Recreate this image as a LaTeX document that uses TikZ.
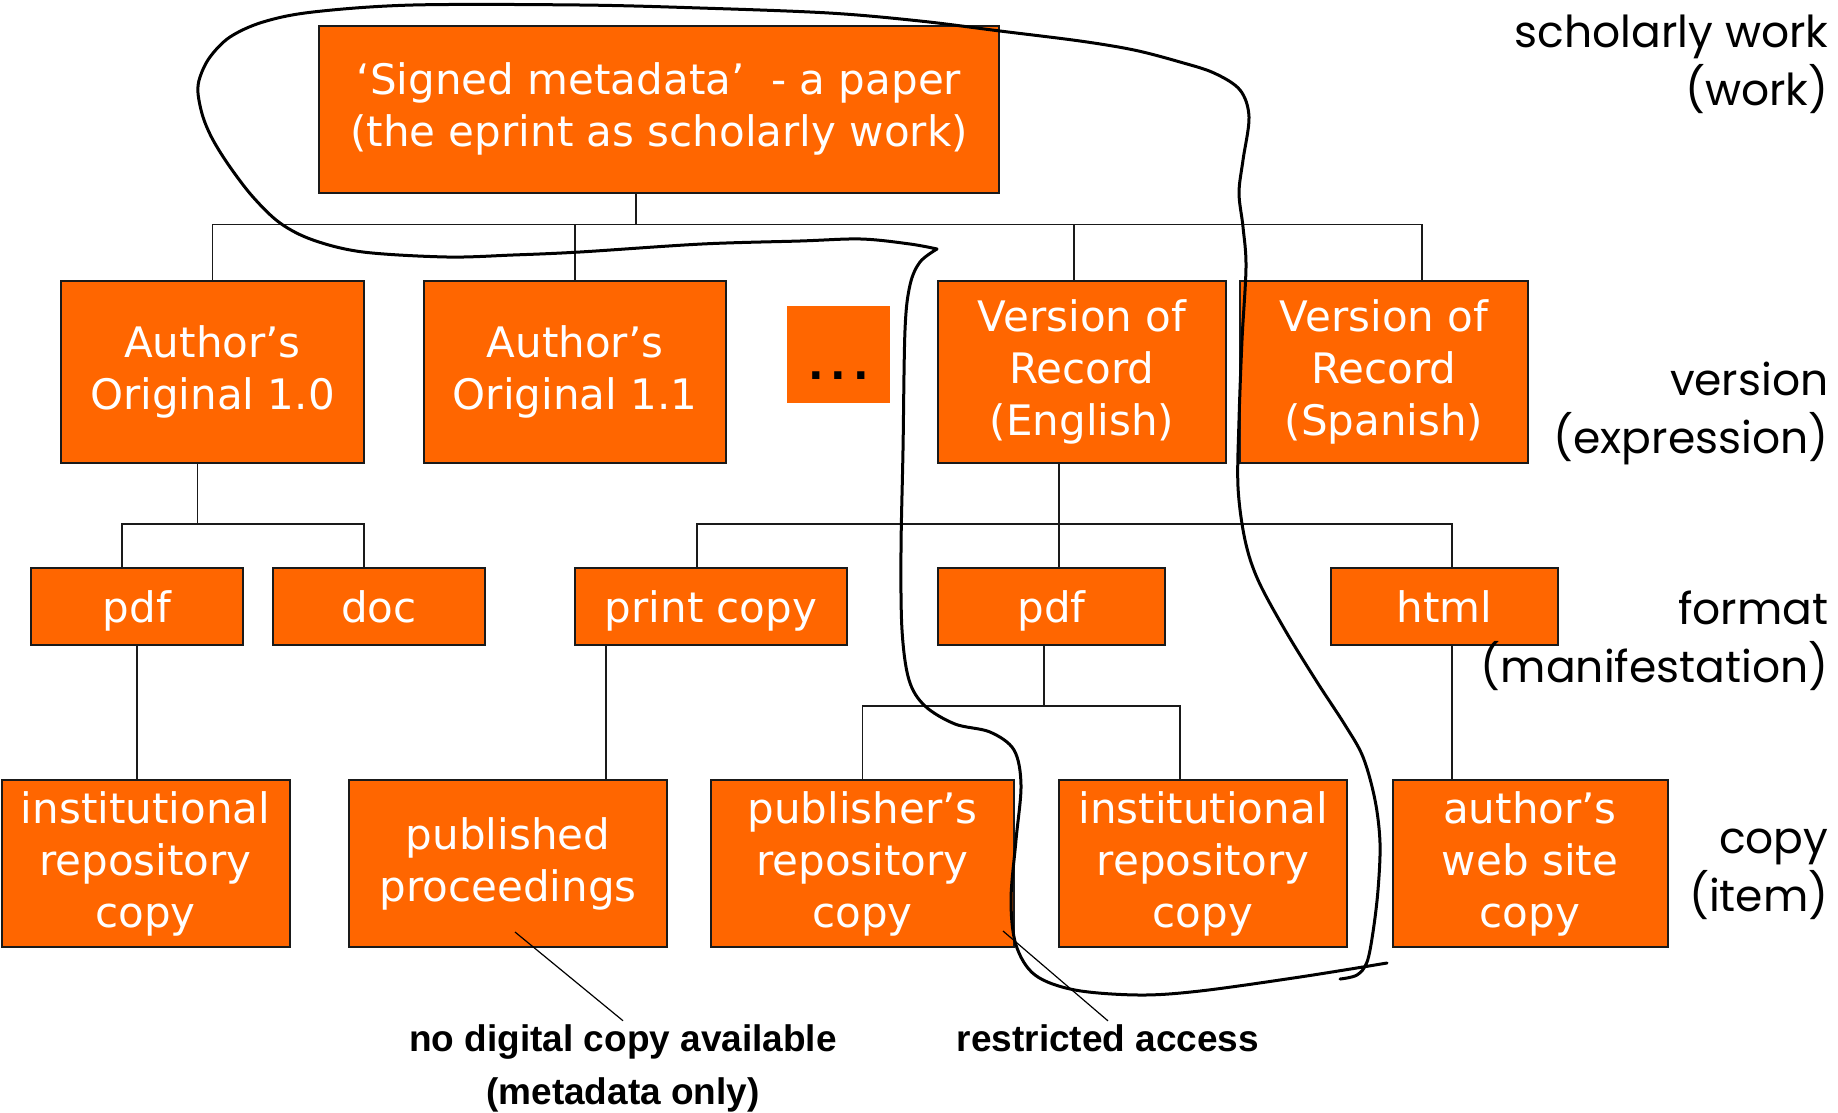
\documentclass[tikz,border=0pt]{standalone}
\usepackage{fontspec}
\setmainfont{DejaVu Sans}
\newfontfamily\notefont{Liberation Sans}
\newfontfamily\layerfont{Poppins}
\usetikzlibrary{calc}
\definecolor{orangebox}{HTML}{FF6600}
\definecolor{boxline}{HTML}{1A1A1A}

\begin{document}
\begin{tikzpicture}[x=1pt,y=-1pt,
    box/.style={draw=boxline,line width=2pt,fill=orangebox,text=white,align=center,inner sep=0pt,font=\fontsize{42}{52}\selectfont},
    tall/.style={minimum width=#1,minimum height=182},
    flat/.style={minimum width=#1,minimum height=77,text height=31pt,text depth=0pt},
    leaf/.style={minimum width=#1,minimum height=167},
    link/.style={draw=boxline,line width=1.6pt},
    pointer/.style={draw=black,line width=1.2pt},
    note/.style={align=center,font=\notefont\bfseries\fontsize{37}{53}\selectfont},
    layer/.style={anchor=east,align=right,font=\layerfont\fontsize{44}{58}\selectfont},
    scribble/.style={line width=3pt,line cap=round,line join=round}]
    \useasboundingbox (0,0) rectangle (1838,1112);
    \node[box,minimum width=680,minimum height=167] (top) at (659,109) {‘Signed metadata’\ \ - a paper\\(the eprint as scholarly work)};
    \node[box,tall=303] (ao10) at (212.5,372) {Author’s\\Original 1.0};
    \node[box,tall=302] (ao11) at (575,372) {Author’s\\Original 1.1};
    \node[box,draw=none,minimum width=103,minimum height=97,text=black,text height=49pt,text depth=0pt,font=\bfseries\fontsize{41}{52}\selectfont] (more) at (838.5,354.5) {.\,.\,.};
    \node[box,tall=288] (vore) at (1082,372) {Version of\\Record\\(English)};
    \node[box,tall=288] (vors) at (1384,372) {Version of\\Record\\(Spanish)};
    \node[box,flat=212] (pdfa) at (137,606.5) {pdf};
    \node[box,flat=212] (doc) at (379,606.5) {doc};
    \node[box,flat=272] (print) at (711,606.5) {print copy};
    \node[box,flat=227] (pdfb) at (1051.5,606.5) {pdf};
    \node[box,flat=227] (html) at (1444.5,606.5) {html};
    \node[box,leaf=288] (ir1) at (145.5,863.5) {institutional\\repository\\copy};
    \node[box,leaf=318] (pp) at (508,863.5) {published\\proceedings};
    \node[box,leaf=303] (pr) at (862.5,863.5) {publisher’s\\repository\\copy};
    \node[box,leaf=288] (ir2) at (1203,863.5) {institutional\\repository\\copy};
    \node[box,leaf=275] (aw) at (1530,863.5) {author’s\\web site\\copy};

    \draw[link] ([xshift=-23pt]top.south) -- ++(0,31) coordinate (wbus);
    \draw[link] (ao10.north) |- (wbus) -| ([xshift=38pt]vors.north);
    \draw[link] (ao11.north) -- (ao11.north |- wbus);
    \draw[link] ([xshift=-8pt]vore.north) -- ([xshift=-8pt]vore.north |- wbus);
    \draw[link] ([xshift=-15pt]ao10.south) -- ++(0,60) coordinate (abus);
    \draw[link] ([xshift=-15pt]pdfa.north) |- (abus) -| ([xshift=-15pt]doc.north);
    \draw[link] ([xshift=-23pt]vore.south) -- ([xshift=7.5pt]pdfb.north);
    \coordinate (vbus) at ([xshift=-23pt]vore.south |- abus);
    \draw[link] ([xshift=-14pt]print.north) |- (vbus) -| ([xshift=7.5pt]html.north);
    \draw[link] (pdfa.south) -- (pdfa.south |- ir1.north);
    \draw[link] ([xshift=-105pt]print.south) -- ([xshift=-105pt]print.south |- pp.north);
    \draw[link] ([xshift=-7.5pt]pdfb.south) -- ++(0,60) coordinate (pbus);
    \draw[link] (pr.north) |- (pbus) -| ([xshift=-23pt]ir2.north);
    \draw[link] ([xshift=7.5pt]html.south) -- ([xshift=7.5pt]html.south |- aw.north);

    \node[layer] (lwork) at (1832,64) {scholarly work\\(work)};
    \node[layer] (lexpr) at (1832,413) {version\\(expression)};
    \node[layer] (lmani) at (1832,641) {format\\(manifestation)};
    \node[layer] (litem) at (1832,874) {copy\\(item)};

    \node[note] (nodig) at (623,1068) {no digital copy available\\(metadata only)};
    \node[note] (restr) at (1108,1038) {restricted access};
    \draw[pointer] (nodig.north) -- ([xshift=7pt,yshift=16pt]pp.south);
    \draw[pointer] (restr.north) -- ([xshift=-12pt,yshift=17pt]pr.south east);

    \draw[scribble] plot[smooth,tension=0.55] coordinates {(1387,963) (1300,977) (1200,991) (1139,995) (1075,990) (1035,975) (1016,945) (1011,900) (1016,840) (1021,785) (1014,750) (990,732) (955,724) (925,706) (909,680) (902,630) (901,550) (903,450) (905,330) (910,285) (920,262) (937,249)}
        -- plot[smooth,tension=0.55] coordinates {(937,249) (910,244) (861,239) (800,241) (702,244) (580,252) (513,255) (447,257) (363,252) (313,240) (280,223) (253,197) (230,167) (213,140) (203,117) (198,93) (200,77) (210,57) (230,37) (263,22) (313,12) (413,5) (580,5) (700,8) (829,13) (920,21) (1000,31) (1080,41) (1134,50) (1180,62) (1214,73) (1240,90) (1249,117) (1243,160) (1239,193) (1243,227) (1246,267) (1242,340) (1239,420) (1238,487) (1245,540) (1258,580) (1285,630) (1317,682) (1345,725) (1363,757) (1375,800) (1380,843) (1378,890) (1373,932) (1367,962) (1357,975) (1340,979)};
\end{tikzpicture}
\end{document}
